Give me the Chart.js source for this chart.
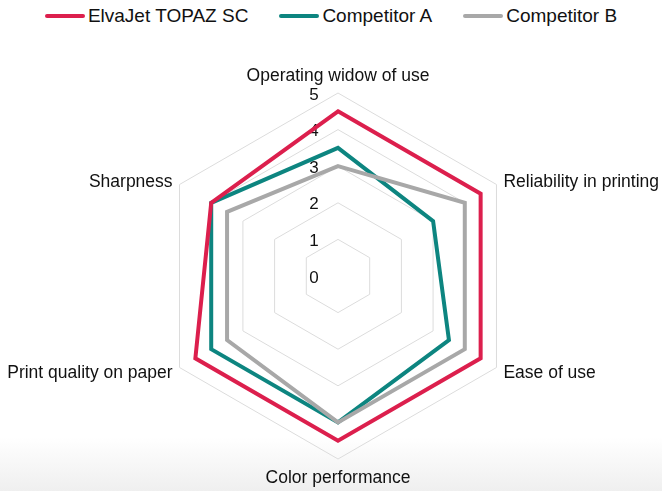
<!DOCTYPE html>
<html>
<head>
<meta charset="utf-8">
<script src="https://cdn.jsdelivr.net/npm/chart.js@4"></script>
<style>
  html, body {
    margin: 0;
    padding: 0;
  }
  body {
    width: 662px;
    height: 491px;
    position: relative;
    overflow: hidden;
    font-family: "Liberation Sans", Arial, sans-serif;
    background: linear-gradient(to bottom, #ffffff 0px, #ffffff 437px, #efefef 491px);
  }
  #legend {
    position: absolute;
    top: 3px;
    left: 0;
    width: 662px;
    display: flex;
    justify-content: center;
    gap: 31px;
    font-size: 19px;
    color: #111;
  }
  .legendItem {
    display: flex;
    align-items: center;
    height: 25px;
  }
  .legendLine {
    width: 40px;
    height: 4px;
    border-radius: 2px;
    margin-right: 3px;
  }
  #chartWrap {
    position: absolute;
    top: 0;
    left: 0;
    width: 662px;
    height: 491px;
  }
</style>
</head>
<body>
<div id="legend"></div>
<div id="chartWrap"><canvas id="radarChart"></canvas></div>
<script>
const categories = [
  "Operating widow of use",
  "Reliability in printing",
  "Ease of use",
  "Color performance",
  "Print quality on paper",
  "Sharpness",
];

const seriesNames = ["ElvaJet TOPAZ SC", "Competitor A", "Competitor B"];
const seriesColors = ["#dc1f4d", "#0d8580", "#a8a8a8"];

const elvajetValues = [4.5, 4.5, 4.5, 4.5, 4.5, 4];
const competitorAValues = [3.5, 3, 3.5, 4, 4, 4];
const competitorBValues = [3, 4, 4, 4, 3.5, 3.5];

const tickValues = [0, 1, 2, 3, 4, 5];

const labelFont = '17.5px "Liberation Sans", Arial, sans-serif';
const tickFont = '17px "Liberation Sans", Arial, sans-serif';

const legendBox = document.getElementById("legend");

seriesNames.forEach((name, i) => {
  const item = document.createElement("div");
  item.className = "legendItem";
  const line = document.createElement("span");
  line.className = "legendLine";
  line.style.background = seriesColors[i];
  const text = document.createElement("span");
  text.textContent = name;
  item.appendChild(line);
  item.appendChild(text);
  legendBox.appendChild(item);
});

// tick numbers sit a bit left of the centre line, under the data lines
const tickLabelPlugin = {
  id: "tickLabels",
  beforeDatasetsDraw(chart) {
    const scale = chart.scales.r;
    const ctx = chart.ctx;
    ctx.save();
    ctx.font = tickFont;
    ctx.fillStyle = "#111";
    ctx.textAlign = "center";
    ctx.textBaseline = "middle";
    tickValues.forEach((value) => {
      const dist = scale.getDistanceFromCenterForValue(value);
      ctx.fillText(String(value), scale.xCenter - 24, scale.yCenter - dist + 2);
    });
    ctx.restore();
  },
};

// category labels centred on the vertex height, like the original
const pointLabelPlugin = {
  id: "pointLabels",
  afterDraw(chart) {
    const scale = chart.scales.r;
    const ctx = chart.ctx;
    ctx.save();
    ctx.font = labelFont;
    ctx.fillStyle = "#111";
    categories.forEach((label, i) => {
      const pos = scale.getPointPosition(i, scale.drawingArea + 8);
      const dx = pos.x - scale.xCenter;
      const dy = pos.y - scale.yCenter;
      if (Math.abs(dx) < 1) {
        ctx.textAlign = "center";
        if (dy < 0) {
          ctx.textBaseline = "bottom";
          ctx.fillText(label, pos.x, pos.y);
        } else {
          ctx.textBaseline = "top";
          ctx.fillText(label, pos.x, pos.y + 2);
        }
      } else {
        ctx.textAlign = dx > 0 ? "left" : "right";
        ctx.textBaseline = "middle";
        ctx.fillText(label, pos.x, pos.y + 1.5);
      }
    });
    ctx.restore();
  },
};

const radarChart = new Chart(document.getElementById("radarChart"), {
  type: "radar",
  data: {
    labels: categories,
    datasets: [
      {
        label: seriesNames[0],
        data: elvajetValues,
        borderColor: seriesColors[0],
        order: 0,
      },
      {
        label: seriesNames[1],
        data: competitorAValues,
        borderColor: seriesColors[1],
        order: 2,
      },
      {
        label: seriesNames[2],
        data: competitorBValues,
        borderColor: seriesColors[2],
        order: 1,
      },
    ].map((ds) => ({
      ...ds,
      backgroundColor: "transparent",
      borderWidth: 4,
      pointRadius: 0,
      pointHoverRadius: 0,
      fill: false,
      tension: 0,
    })),
  },
  options: {
    responsive: true,
    maintainAspectRatio: false,
    animation: false,
    layout: {
      padding: { top: 93, bottom: 32, left: 155, right: 141 },
    },
    plugins: {
      legend: { display: false },
      tooltip: { enabled: false },
    },
    scales: {
      r: {
        min: 0,
        max: 5,
        beginAtZero: true,
        ticks: {
          stepSize: 1,
          display: false,
        },
        angleLines: { display: false },
        grid: {
          color: "#dcdcdc",
          lineWidth: 1,
        },
        pointLabels: {
          display: false,
        },
      },
    },
  },
  plugins: [tickLabelPlugin, pointLabelPlugin],
});
</script>
</body>
</html>
